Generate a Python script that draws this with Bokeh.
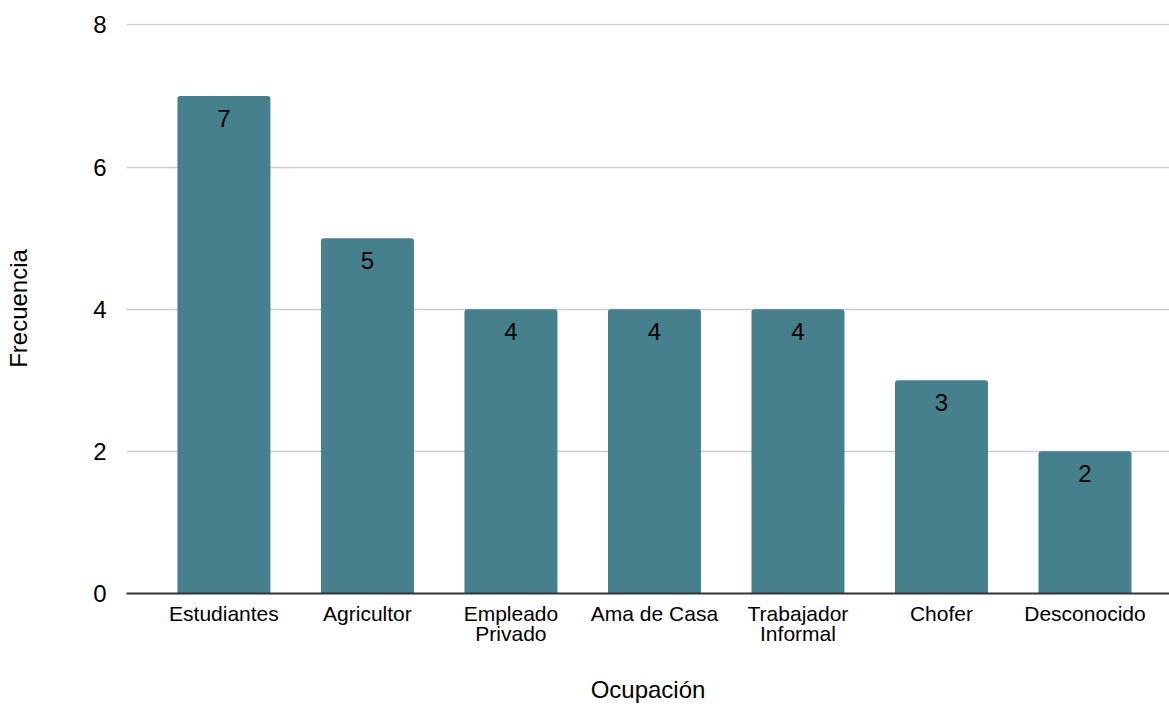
from bokeh.plotting import figure
from bokeh.models import ColumnDataSource, Range1d, FixedTicker
from bokeh.core.properties import value
from bokeh.embed import file_html
from bokeh.resources import INLINE

categories = ["Estudiantes", "Agricultor", "Empleado\nPrivado", "Ama de Casa",
              "Trabajador\nInformal", "Chofer", "Desconocido"]
frecuencia = [7, 5, 4, 4, 4, 3, 2]
y_ticks = [0, 2, 4, 6, 8]

FONT = "Liberation Sans"
BAR = "#46808d"

xs = list(range(len(categories)))
src = ColumnDataSource(dict(x=xs, top=frecuencia, label=[str(v) for v in frecuencia]))

p = figure(width=1169, height=706, output_backend="svg", toolbar_location=None,
           x_range=Range1d(-0.679, 6.589), y_range=Range1d(0, 8.02),
           min_border_left=126, min_border_right=0, min_border_top=23,
           min_border_bottom=113)
p.outline_line_color = None

p.vbar(x="x", top="top", bottom=0, width=0.648, source=src,
       fill_color=BAR, line_color=None, border_radius=(3, 3, 0, 0))
p.text(x="x", y="top", text="label", source=src, text_align="center",
       text_baseline="top", y_offset=14, text_font=value(FONT),
       text_font_size="24px", text_color="#000000")

p.xaxis.ticker = FixedTicker(ticks=xs)
p.xaxis.major_label_overrides = {i: c for i, c in enumerate(categories)}
p.xaxis.major_label_text_font = FONT
p.xaxis.major_label_text_font_size = "21px"
p.xaxis.major_label_text_color = "#000000"
p.xaxis.major_label_text_line_height = 0.9
p.xaxis.major_tick_line_color = None
p.xaxis.minor_tick_line_color = None
p.xaxis.major_label_standoff = 2
p.xaxis.axis_line_color = "#333333"
p.xaxis.axis_line_width = 2
p.xaxis.axis_label = "Ocupación"
p.xaxis.axis_label_text_font = FONT
p.xaxis.axis_label_text_font_style = "normal"
p.xaxis.axis_label_text_font_size = "24px"
p.xaxis.axis_label_text_color = "#000000"
p.xaxis.axis_label_standoff = 28

p.yaxis.ticker = FixedTicker(ticks=y_ticks)
p.yaxis.major_label_text_font = FONT
p.yaxis.major_label_text_font_size = "24px"
p.yaxis.major_label_text_color = "#000000"
p.yaxis.major_tick_line_color = None
p.yaxis.minor_tick_line_color = None
p.yaxis.axis_line_color = None
p.yaxis.major_label_standoff = 14
p.yaxis.axis_label = "Frecuencia"
p.yaxis.axis_label_text_font = FONT
p.yaxis.axis_label_text_font_style = "normal"
p.yaxis.axis_label_text_font_size = "24px"
p.yaxis.axis_label_text_color = "#000000"
p.yaxis.axis_label_standoff = 58

p.xgrid.grid_line_color = None
p.ygrid.grid_line_color = "#cccccc"
p.ygrid.grid_line_width = 1.5

open("out.html", "w").write(file_html(p, INLINE))
